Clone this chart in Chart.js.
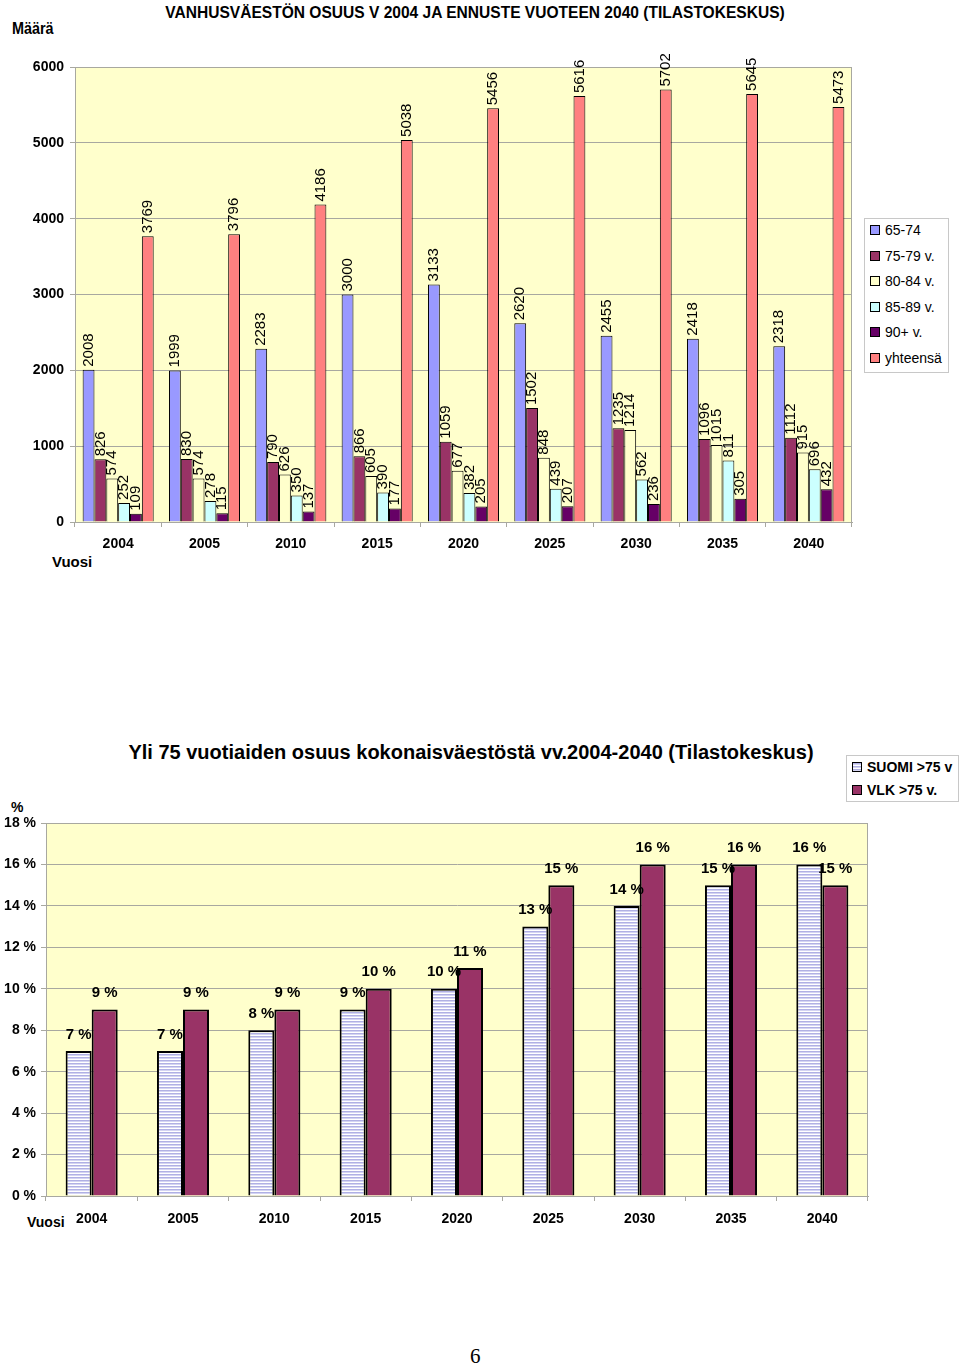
<!DOCTYPE html>
<html>
<head>
<meta charset="utf-8">
<script src="https://cdn.jsdelivr.net/npm/chart.js@4/dist/chart.umd.min.js"></script>
<style>
  html,body{margin:0;padding:0;background:#fff;}
  body{width:960px;height:1365px;position:relative;overflow:hidden;font-family:Arial,"Liberation Sans",sans-serif;color:#000;}
  .abs{position:absolute;white-space:nowrap;}
  #c1{position:absolute;left:0;top:0;}
  #c2{position:absolute;left:0;top:700px;}
  .legend{position:absolute;background:#fff;border:1px solid #c8c8c8;box-sizing:border-box;}
  .li{position:absolute;left:5px;font-size:14px;line-height:16px;}
  .sw{display:inline-block;width:8px;height:8px;border:1px solid #000;margin-right:5px;vertical-align:0px;}
</style>
</head>
<body>
<div class="abs" style="left:0;width:950px;text-align:center;top:3px;font-weight:bold;font-size:17px;transform:scaleX(0.915);transform-origin:475px 0;">VANHUSVÄESTÖN OSUUS V 2004 JA ENNUSTE VUOTEEN 2040 (TILASTOKESKUS)</div>
<div class="abs" style="left:12px;top:20px;font-weight:bold;font-size:16px;transform:scaleX(0.9);transform-origin:0 0;">Määrä</div>
<div class="abs" style="left:52px;top:553px;font-weight:bold;font-size:15px;">Vuosi</div>
<canvas id="c1" width="960" height="600"></canvas>
<div class="legend" id="leg1" style="left:864px;top:218px;width:85px;height:155px;"></div>

<div class="abs" style="left:0;width:942px;text-align:center;top:741px;font-weight:bold;font-size:20px;">Yli 75 vuotiaiden osuus kokonaisväestöstä vv.2004-2040 (Tilastokeskus)</div>
<div class="abs" style="left:11px;top:799px;font-weight:bold;font-size:14px;">%</div>
<div class="abs" style="left:27px;top:1214px;font-weight:bold;font-size:14px;">Vuosi</div>
<canvas id="c2" width="960" height="560"></canvas>
<div class="legend" id="leg2" style="left:846px;top:755px;width:113px;height:47px;"></div>

<div class="abs" style="left:470px;top:1344px;font-family:'Liberation Serif','DejaVu Serif',serif;font-size:21px;">6</div>

<script>
// ---------- DATA ----------
const years = ['2004','2005','2010','2015','2020','2025','2030','2035','2040'];
const seriesNames = ['65-74','75-79 v.','80-84 v.','85-89 v.','90+ v.','yhteensä'];
const age6574 = [2008,1999,2283,3000,3133,2620,2455,2418,2318];
const age7579 = [826,830,790,866,1059,1502,1235,1096,1112];
const age8084 = [574,574,626,605,677,848,1214,1015,915];
const age8589 = [252,278,350,390,382,439,562,811,696];
const age90 = [109,115,137,177,205,207,236,305,432];
const total = [3769,3796,4186,5038,5456,5616,5702,5645,5473];
const yTicks1 = [0,1000,2000,3000,4000,5000,6000];

const shareNames = ['SUOMI >75 v','VLK >75 v.'];
const suomiShare = [7,7,8,9,10,13,14,15,16];
const vlkShare = [9,9,9,10,11,15,16,16,15];
const yTicks2 = [0,2,4,6,8,10,12,14,16,18];

// ---------- STYLE ----------
const colors1 = ['#9999FF','#993366','#FFFFCC','#CCFFFF','#660066','#FF8080'];
const FONT = 'Arial, "Liberation Sans", sans-serif';
const PLOT_BG = '#FFFFCC';
const GRID = '#a8a8a0';

const plotBg = {
  id:'plotBg',
  beforeDraw(chart){
    const a = chart.chartArea, ctx = chart.ctx;
    ctx.save(); ctx.fillStyle = PLOT_BG;
    ctx.fillRect(a.left, a.top, a.right-a.left, a.bottom-a.top);
    ctx.restore();
  },
  beforeDatasetsDraw(chart){
    const a = chart.chartArea, ctx = chart.ctx;
    ctx.save(); ctx.strokeStyle = GRID; ctx.lineWidth = 1;
    ctx.strokeRect(a.left+0.5, a.top+0.5, a.right-a.left-1, a.bottom-a.top);
    ctx.restore();
  }
};

const vLabels = {
  id:'vLabels',
  afterDatasetsDraw(chart){
    const ctx = chart.ctx;
    ctx.save();
    ctx.font = '15px ' + FONT; ctx.fillStyle = '#000';
    ctx.textAlign = 'left'; ctx.textBaseline = 'middle';
    chart.data.datasets.forEach((ds,i)=>{
      chart.getDatasetMeta(i).data.forEach((el,j)=>{
        ctx.save();
        ctx.translate(el.x, el.y - 3);
        ctx.rotate(-Math.PI/2);
        ctx.fillText(String(ds.data[j]), 0, 0);
        ctx.restore();
      });
    });
    ctx.restore();
  }
};

const hLabels = {
  id:'hLabels',
  afterDatasetsDraw(chart){
    const ctx = chart.ctx;
    ctx.save();
    ctx.font = 'bold 15px ' + FONT; ctx.fillStyle = '#000';
    ctx.textAlign = 'center'; ctx.textBaseline = 'bottom';
    chart.data.datasets.forEach((ds,i)=>{
      chart.getDatasetMeta(i).data.forEach((el,j)=>{
        ctx.fillText(ds.data[j] + ' %', el.x, el.y - 9);
      });
    });
    ctx.restore();
  }
};

// ---------- CHART 1 ----------
const data1 = [age6574, age7579, age8084, age8589, age90, total];
new Chart(document.getElementById('c1'), {
  type:'bar',
  data:{
    labels: years,
    datasets: data1.map((d,i)=>({
      label: seriesNames[i], data: d,
      backgroundColor: colors1[i], borderColor:'#000', borderWidth:1,
      categoryPercentage:0.823, barPercentage:1
    }))
  },
  options:{
    responsive:false, animation:false,
    layout:{padding:{top:67, left:0, right:108, bottom:38}},
    plugins:{legend:{display:false}, tooltip:{enabled:false}},
    scales:{
      x:{
        grid:{offset:true, drawOnChartArea:false, color:GRID, tickLength:5},
        border:{color:GRID},
        ticks:{font:{family:FONT, size:14, weight:'bold'}, color:'#000', padding:9, maxRotation:0},
        afterFit(s){ s.height = 40; }
      },
      y:{
        min:0, max:6000,
        afterBuildTicks(s){ s.ticks = yTicks1.map(v=>({value:v})); },
        grid:{color:GRID, tickLength:5},
        border:{color:GRID},
        ticks:{font:{family:FONT, size:14, weight:'bold'}, color:'#000', padding:6, callback:v=>String(v)},
        afterFit(s){ s.width = 75; }
      }
    }
  },
  plugins:[plotBg, vLabels]
});

// ---------- CHART 2 ----------
function stripePattern(){
  const c = document.createElement('canvas'); c.width = 4; c.height = 3;
  const x = c.getContext('2d');
  x.fillStyle = '#ffffff'; x.fillRect(0,0,4,3);
  x.fillStyle = '#b0b0e4'; x.fillRect(0,0,4,1);
  x.fillStyle = '#d4d4f2'; x.fillRect(0,1,4,1);
  return document.getElementById('c2').getContext('2d').createPattern(c,'repeat');
}
const pat = stripePattern();
new Chart(document.getElementById('c2'), {
  type:'bar',
  data:{
    labels: years,
    datasets:[
      {label:shareNames[0], data:suomiShare, backgroundColor:pat, borderColor:'#000', borderWidth:2, categoryPercentage:0.57, barPercentage:1},
      {label:shareNames[1], data:vlkShare, backgroundColor:'#993366', borderColor:'#000', borderWidth:2, categoryPercentage:0.57, barPercentage:1}
    ]
  },
  options:{
    responsive:false, animation:false,
    layout:{padding:{top:123, left:0, right:92, bottom:24}},
    plugins:{legend:{display:false}, tooltip:{enabled:false}},
    scales:{
      x:{
        grid:{offset:true, drawOnChartArea:false, color:GRID, tickLength:5},
        border:{color:GRID},
        ticks:{font:{family:FONT, size:14, weight:'bold'}, color:'#000', padding:10, maxRotation:0},
        afterFit(s){ s.height = 40; }
      },
      y:{
        min:0, max:18,
        afterBuildTicks(s){ s.ticks = yTicks2.map(v=>({value:v})); },
        grid:{color:GRID, tickLength:5},
        border:{color:GRID},
        ticks:{font:{family:FONT, size:14, weight:'bold'}, color:'#000', padding:5, callback:v=>v+' %'},
        afterFit(s){ s.width = 46; }
      }
    }
  },
  plugins:[plotBg, hLabels]
});

// ---------- LEGENDS ----------
const leg1 = document.getElementById('leg1');
seriesNames.forEach((n,i)=>{
  const d = document.createElement('div'); d.className='li';
  d.style.top = (3 + i*25.6) + 'px';
  d.innerHTML = '<span class="sw" style="background:'+colors1[i]+'"></span>'+n;
  leg1.appendChild(d);
});
const leg2 = document.getElementById('leg2');
const legBg2 = ['repeating-linear-gradient(to bottom,#b0b0e4 0,#b0b0e4 1px,#d4d4f2 1px,#d4d4f2 2px,#fff 2px,#fff 3px)','#993366'];
shareNames.forEach((n,i)=>{
  const d = document.createElement('div'); d.className='li';
  d.style.top = (3 + i*23) + 'px'; d.style.fontWeight='bold';
  d.innerHTML = '<span class="sw" style="background:'+legBg2[i]+'"></span>'+n;
  leg2.appendChild(d);
});
</script>
</body>
</html>
